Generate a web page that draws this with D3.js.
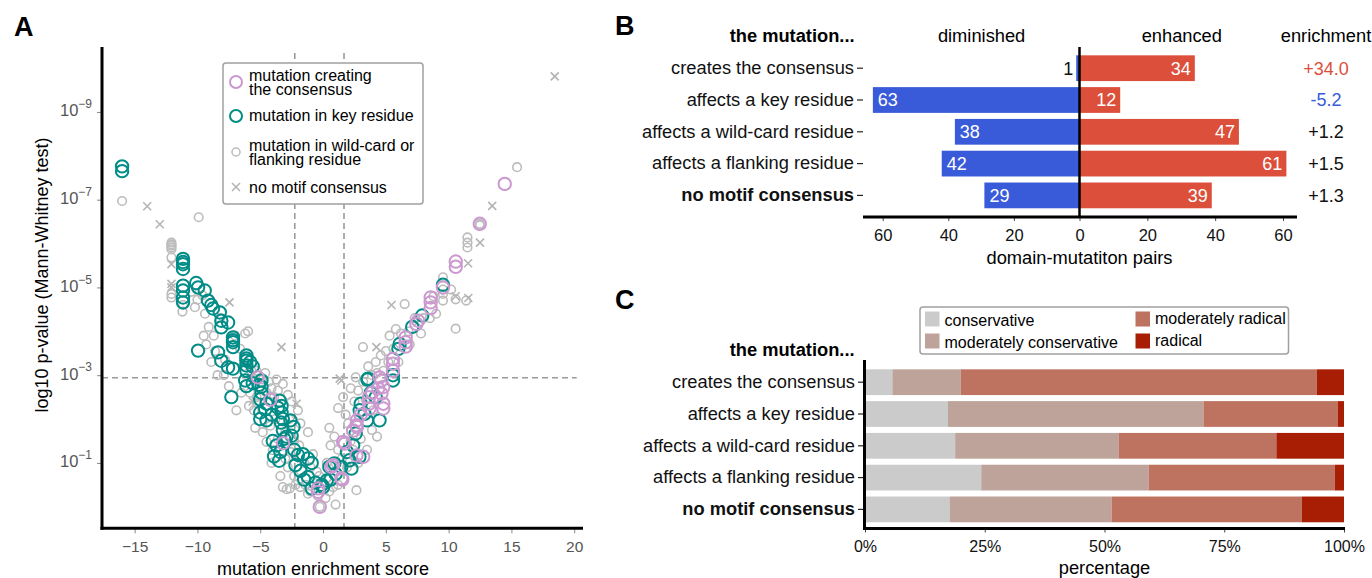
<!DOCTYPE html>
<html>
<head>
<meta charset="utf-8">
<script src="https://cdn.jsdelivr.net/npm/d3@7"></script>
<style>
body { margin: 0; background: #fff; }
svg { font-family: 'Liberation Sans', Arial, Helvetica, sans-serif; }
</style>
</head>
<body>
<svg id="chart" width="1372" height="578"></svg>
<script>
/* global d3 */

// panel A: [mutation enrichment score, -log10 p-value]
const creatingConsensus = [
	[-5.2, 2.95], [-4.2, 2.44], [-3.18, 1.45], [-0.4, 0.34], [-0.26, 0.0], [-0.4, 0.42],
	[0.67, 0.91], [0.8, 0.95], [1.54, 0.62], [1.46, 0.65], [1.73, 1.44], [1.6, 1.48], [2.4, 1.74], [2.65, 1.86], [2.66, 1.17], [3.2, 1.14],
	[2.7, 1.97], [2.7, 1.82], [3.0, 2.1], [3.66, 2.5], [3.66, 2.35], [3.7, 2.24], [3.9, 2.6],
	[4.65, 2.88], [4.8, 2.73], [4.65, 2.58], [4.8, 2.35], [4.8, 2.24], [4.5, 2.95], [4.4, 2.7],
	[5.57, 3.37], [5.57, 3.26], [5.57, 3.1],
	[6.58, 3.86], [6.58, 3.75], [6.58, 3.65], [7.57, 4.24], [7.43, 4.17],
	[8.57, 4.77], [8.57, 4.66], [8.57, 4.53], [9.55, 5.0],
	[10.57, 5.59], [10.57, 5.47], [12.48, 6.45], [14.47, 7.36],
];

const keyResidue = [
	[-16.0, 7.76], [-16.0, 7.65],
	[-11.15, 5.65], [-11.15, 5.58], [-11.15, 5.53], [-11.15, 5.42], [-11.15, 5.04], [-11.15, 4.93], [-11.15, 4.77], [-11.15, 4.66],
	[-10.1, 5.1], [-9.95, 5.0], [-9.42, 4.93], [-9.16, 4.7], [-8.9, 4.6], [-8.76, 4.52], [-8.22, 4.43],
	[-8.1, 4.24], [-8.1, 4.09], [-7.56, 4.2], [-7.17, 3.86], [-7.17, 3.8], [-7.17, 3.75], [-7.17, 3.64],
	[-9.95, 3.56], [-8.36, 3.52], [-8.1, 3.33], [-7.56, 3.18], [-7.17, 3.15],
	[-6.1, 3.45], [-6.1, 3.38], [-6.1, 3.33], [-6.1, 3.22], [-6.1, 3.1], [-5.8, 3.3], [-5.6, 3.2],
	[-6.2, 2.88], [-6.1, 2.75], [-5.6, 2.82], [-5.1, 2.78], [-4.9, 2.74], [-4.9, 2.88],
	[-7.3, 2.5], [-4.9, 2.6], [-5.0, 2.45], [-4.5, 2.35], [-3.45, 2.42], [-3.3, 2.3], [-3.3, 2.15], [-3.2, 2.0], [-3.35, 1.92],
	[-5.0, 2.15], [-5.0, 2.0], [-4.5, 1.97], [-4.1, 2.1], [-3.6, 2.26], [-4.6, 2.22],
	[-2.6, 1.97], [-2.35, 1.82], [-2.5, 1.62],
	[-2.9, 1.6], [-3.1, 1.55], [-4.0, 1.5], [-3.7, 1.4], [-3.4, 1.25], [-3.5, 1.05], [-3.9, 1.15], [-3.2, 1.75],
	[-2.3, 1.3], [-2.0, 1.18], [-1.6, 1.2], [-1.2, 1.1], [-2.2, 0.95], [-1.8, 0.82], [-1.5, 0.62], [-1.2, 0.68], [-0.9, 0.42], [-0.6, 0.55], [-0.9, 1.0],
	[-0.1, 0.5], [0.3, 0.6], [0.0, 0.45], [0.6, 0.62], [1.0, 0.75], [0.5, 0.91], [0.9, 0.99], [1.46, 0.91], [2.26, 0.87],
	[2.1, 1.06], [2.9, 1.14], [2.6, 1.67], [2.92, 2.2], [3.3, 2.12], [3.5, 1.97], [4.5, 1.97], [3.53, 2.9], [3.8, 2.6], [4.2, 2.5], [3.0, 2.35],
	[5.57, 2.88], [5.57, 3.0], [6.1, 3.71], [6.0, 3.6], [7.1, 4.1], [7.9, 4.36], [9.55, 5.06], [3.58, 2.92], [2.4, 1.4], [1.9, 1.25],
];

const wildcardFlanking = [
	[-16.0, 6.97], [-9.9, 6.6], [15.45, 7.74],
	[-12.07, 6.02], [-12.07, 5.98], [-12.07, 5.95], [-12.07, 5.91], [-12.07, 5.87], [-12.07, 5.68], [-12.07, 4.85], [-12.07, 4.77],
	[-11.15, 4.6], [-11.2, 4.45], [-10.2, 4.55], [-10.0, 4.72], [-9.6, 4.82], [-10.5, 4.9],
	[-9.4, 4.4], [-9.1, 4.1], [-9.5, 3.9], [-9.3, 3.7], [-8.7, 3.9], [-8.6, 3.55], [-8.9, 3.3], [-8.4, 3.0], [-7.9, 3.0], [-7.8, 3.35], [-7.5, 2.75], [-8.2, 4.3], [-7.0, 3.9],
	[-6.2, 3.95], [-5.97, 4.0], [-6.6, 3.6], [-6.4, 3.2], [-5.7, 3.1], [-5.3, 3.1], [-5.5, 2.9], [-4.8, 2.9], [-4.3, 2.85], [-4.1, 2.7], [-3.7, 2.9], [-3.2, 2.8], [-4.6, 3.05],
	[-6.5, 2.6], [-6.9, 2.2], [-5.9, 2.3], [-5.5, 2.2], [-5.3, 2.5], [-4.5, 2.6], [-3.9, 2.5], [-3.6, 2.65], [-2.8, 2.55], [-2.5, 2.4], [-5.8, 2.6], [-5.2, 2.35], [-4.3, 2.4],
	[-5.4, 1.8], [-4.8, 1.7], [-4.5, 1.48], [-4.0, 1.29], [-3.6, 1.55], [-3.0, 1.7], [-2.7, 2.0], [-2.0, 2.2], [-1.8, 1.9], [-1.2, 1.7], [-2.3, 1.5], [-1.9, 1.4], [-4.2, 1.85], [-3.8, 2.0], [-2.6, 1.25],
	[-3.2, 0.45], [-2.65, 0.42], [-2.3, 0.7], [-2.8, 0.9], [-3.0, 1.1], [-1.5, 1.0], [-1.0, 0.9], [-0.8, 1.2], [-0.5, 0.8], [-0.3, 0.7], [-1.0, 0.35], [-0.4, 0.25], [-0.26, 0.0], [0.2, 0.2], [0.5, 0.35], [0.8, 0.45], [1.2, 0.5], [-1.4, 0.5], [-2.0, 0.6],
	[-2.9, 0.4], [-1.8, 0.45], [-1.2, 0.3], [-3.4, 0.7], [-4.1, 1.0],
	[0.6, 1.4], [0.9, 1.6], [1.2, 1.3], [1.5, 1.1], [1.9, 0.9], [2.2, 1.5], [2.4, 1.3], [2.66, 0.38], [2.8, 1.0], [3.5, 1.3], [3.0, 1.55], [0.3, 1.0], [1.0, 1.0],
	[1.2, 2.25], [1.8, 2.1], [2.0, 1.9], [2.5, 2.4], [2.2, 2.7], [2.8, 2.65], [3.2, 2.85], [3.4, 2.45], [4.0, 2.2], [3.9, 1.75], [4.3, 1.6], [1.6, 2.5], [2.6, 2.95],
	[3.18, 3.64], [3.6, 3.2], [3.9, 3.0], [4.2, 3.3], [4.3, 3.05], [4.8, 3.1], [5.0, 3.55], [5.2, 3.3], [5.6, 3.6], [6.0, 3.3], [5.3, 3.9], [4.6, 3.45],
	[6.5, 4.62], [5.8, 4.05], [6.2, 3.95], [6.8, 4.0], [7.3, 4.3], [7.8, 3.95], [8.0, 4.3], [8.5, 4.3], [9.0, 4.4], [8.8, 4.8], [6.9, 3.7],
	[9.55, 5.23], [9.55, 4.95], [9.55, 4.85], [9.55, 4.7], [10.56, 4.73], [10.56, 4.06], [10.2, 4.95], [11.4, 4.7],
	[11.5, 6.14], [11.5, 6.02], [11.5, 5.91], [12.48, 6.45], [12.48, 6.42], [1.0, 0.05], [-2.2, 0.5], [0.5, 1.8],
];

const noMotif = [
	[-14.0, 6.85], [-13.0, 6.44], [-12.07, 5.53], [-12.07, 5.08], [-12.07, 5.0], [-7.45, 4.66], [-3.31, 3.64], [-2.1, 2.35],
	[1.46, 2.88], [1.33, 2.92], [4.25, 3.64], [5.45, 4.6], [10.56, 4.8], [11.57, 4.76], [11.55, 5.55], [12.5, 6.02],
	[13.47, 6.86], [18.45, 9.81], [7.5, 4.2], [2.2, 1.6], [-2.3, 1.1], [0.4, 0.55], [-5.6, 2.4],
];

const scoreTicks = [-15, -10, -5, 0, 5, 10, 15, 20];
const pTicks = [-9, -7, -5, -3, -1];
const scoreThresholds = [-2.25, 1.67];
const pThreshold = -2.94;

// panels B and C
const rowLabels = ['creates the consensus', 'affects a key residue', 'affects a wild-card residue', 'affects a flanking residue', 'no motif consensus'];
const diminished = [1, 63, 38, 42, 29];
const enhanced = [34, 12, 47, 61, 39];
const enrichment = [34.0, -5.2, 1.2, 1.5, 1.3];
const pairTicks = [0, 20, 40, 60];

const classNames = ['conservative', 'moderately conservative', 'moderately radical', 'radical'];
const conservative = [2, 13, 16, 25, 12];
const moderatelyConservative = [5, 40, 29, 36, 23];
const moderatelyRadical = [26, 21, 28, 40, 27];
const radical = [2, 1, 12, 2, 6];
const percentTicks = [0, 25, 50, 75, 100];

const teal = '#008c87';
const pink = '#cc98d0';
const grey = '#bcbcbc';
const blue = '#3a5bd9';
const red = '#db4f3b';
const classColors = ['#cbcbcb', '#bda399', '#bd735f', '#a81e04'];

const svg = d3.select('#chart');

function panelLetter(letter, px, py) {
	svg.append('text')
		.attr('x', px)
		.attr('y', py)
		.attr('font-size', 27)
		.attr('font-weight', 'bold')
		.text(letter);
}

// ---------- A ----------
function drawScatter() {
	const bottom = 528.3;
	const x = d3.scaleLinear().domain([-17.6, 20.7]).range([102, 583]);
	const y = d3.scaleLog().domain([Math.pow(10, 0.49), Math.pow(10, -10.48)]).range([bottom, 47]);
	const px = d => x(d[0]);
	const py = d => y(Math.pow(10, -d[1]));

	panelLetter('A', 14, 36);

	const g = svg.append('g');

	g.selectAll('.vthresh')
		.data(scoreThresholds)
		.enter().append('line')
		.attr('x1', d => x(d)).attr('x2', d => x(d))
		.attr('y1', 53).attr('y2', bottom)
		.attr('stroke', '#9a9a9a')
		.attr('stroke-width', 1.6)
		.attr('stroke-dasharray', '6,4');

	g.append('line')
		.attr('x1', 102).attr('x2', x(20.2))
		.attr('y1', y(Math.pow(10, pThreshold))).attr('y2', y(Math.pow(10, pThreshold)))
		.attr('stroke', '#9a9a9a')
		.attr('stroke-width', 1.6)
		.attr('stroke-dasharray', '6,4');

	g.selectAll('.grey')
		.data(wildcardFlanking)
		.enter().append('circle')
		.attr('cx', px).attr('cy', py)
		.attr('r', 4.3)
		.attr('fill', 'none')
		.attr('stroke', grey)
		.attr('stroke-width', 1.6);

	g.selectAll('.cross')
		.data(noMotif)
		.enter().append('path')
		.attr('d', d => `M${px(d) - 4},${py(d) - 4}L${px(d) + 4},${py(d) + 4}M${px(d) - 4},${py(d) + 4}L${px(d) + 4},${py(d) - 4}`)
		.attr('stroke', '#b4b4b4')
		.attr('stroke-width', 1.6);

	g.selectAll('.key')
		.data(keyResidue)
		.enter().append('circle')
		.attr('cx', px).attr('cy', py)
		.attr('r', 6.2)
		.attr('fill', 'none')
		.attr('stroke', teal)
		.attr('stroke-width', 2);

	g.selectAll('.creating')
		.data(creatingConsensus)
		.enter().append('circle')
		.attr('cx', px).attr('cy', py)
		.attr('r', 6.2)
		.attr('fill', 'none')
		.attr('stroke', pink)
		.attr('stroke-width', 2);

	// axes
	const xAxis = g.append('g')
		.attr('transform', `translate(0,${bottom})`)
		.call(d3.axisBottom(x).tickValues(scoreTicks).tickSize(5).tickSizeOuter(0));
	xAxis.select('.domain').remove();
	xAxis.selectAll('line').attr('stroke', '#888');
	xAxis.selectAll('text')
		.attr('font-size', 15.5)
		.attr('font-family', null)
		.attr('fill', '#555')
		.attr('y', 18.4)
		.attr('dy', '0.35em');

	const yAxis = g.append('g')
		.attr('transform', 'translate(102,0)')
		.call(d3.axisLeft(y).tickValues(pTicks.map(e => Math.pow(10, e))).tickSize(5).tickFormat(''));
	yAxis.select('.domain').remove();
	yAxis.selectAll('line').attr('stroke', '#888');
	const yLabel = yAxis.selectAll('.tick').append('text')
		.attr('x', -10)
		.attr('dy', '0.4em')
		.attr('text-anchor', 'end')
		.attr('fill', '#555');
	yLabel.append('tspan').attr('font-size', 16.5).text('10');
	yLabel.append('tspan').attr('font-size', 12).attr('dy', '-0.7em').text(d => '−' + Math.round(-Math.log10(d)));

	g.append('line')
		.attr('x1', 102).attr('x2', 102).attr('y1', 47).attr('y2', bottom + 1.5)
		.attr('stroke', '#000').attr('stroke-width', 3);
	g.append('line')
		.attr('x1', 100.5).attr('x2', 583).attr('y1', bottom).attr('y2', bottom)
		.attr('stroke', '#000').attr('stroke-width', 3);

	g.append('text')
		.attr('x', x(0))
		.attr('y', 568.3)
		.attr('dy', '0.35em')
		.attr('text-anchor', 'middle')
		.attr('font-size', 18)
		.text('mutation enrichment score');

	g.append('text')
		.attr('transform', 'translate(48,275) rotate(-90)')
		.attr('text-anchor', 'middle')
		.attr('font-size', 18)
		.text('log10 p-value (Mann-Whitney test)');

	// legend
	const legend = g.append('g');
	legend.append('rect')
		.attr('x', 223).attr('y', 63).attr('width', 200).attr('height', 141)
		.attr('rx', 3)
		.attr('fill', '#fff')
		.attr('stroke', '#a0a0a0')
		.attr('stroke-width', 1.5);

	legend.append('circle').attr('cx', 236).attr('cy', 82).attr('r', 6)
		.attr('fill', 'none').attr('stroke', pink).attr('stroke-width', 2);
	legend.append('circle').attr('cx', 236).attr('cy', 116).attr('r', 6)
		.attr('fill', 'none').attr('stroke', teal).attr('stroke-width', 2);
	legend.append('circle').attr('cx', 236).attr('cy', 152).attr('r', 4)
		.attr('fill', 'none').attr('stroke', grey).attr('stroke-width', 1.5);
	legend.append('path').attr('d', 'M232,183L240,191M232,191L240,183')
		.attr('stroke', '#b4b4b4').attr('stroke-width', 1.6);

	const legendLines = [
		['mutation creating', 75], ['the consensus', 89.5],
		['mutation in key residue', 115],
		['mutation in wild-card or', 145], ['flanking residue', 159.5],
		['no motif consensus', 187],
	];
	legend.selectAll('.ltext')
		.data(legendLines)
		.enter().append('text')
		.attr('x', 249)
		.attr('y', d => d[1])
		.attr('dy', '0.35em')
		.attr('font-size', 16)
		.text(d => d[0]);
}

// ---------- B ----------
function drawPairs() {
	const zero = 1079.5;
	const y = d3.scaleBand().domain(rowLabels).range([52.3, 211.3]).paddingInner(0.19).paddingOuter(0.095);
	const xLeft = d3.scaleLinear().domain([0, 60]).range([zero, 882.7]);
	const xRight = d3.scaleLinear().domain([0, 60]).range([zero, 1283]);

	panelLetter('B', 615, 35);

	const g = svg.append('g');

	g.append('text').attr('x', 854.6).attr('y', 36).attr('dy', '0.35em')
		.attr('text-anchor', 'end').attr('font-size', 18.3).attr('font-weight', 'bold')
		.text('the mutation...');
	g.append('text').attr('x', 981.6).attr('y', 36).attr('dy', '0.35em')
		.attr('text-anchor', 'middle').attr('font-size', 18.3).text('diminished');
	g.append('text').attr('x', 1181.8).attr('y', 36).attr('dy', '0.35em')
		.attr('text-anchor', 'middle').attr('font-size', 18.3).text('enhanced');
	g.append('text').attr('x', 1326).attr('y', 36).attr('dy', '0.35em')
		.attr('text-anchor', 'middle').attr('font-size', 18.3).text('enrichment');

	g.selectAll('.dim')
		.data(diminished)
		.enter().append('rect')
		.attr('x', d => xLeft(d))
		.attr('y', (d, i) => y(rowLabels[i]))
		.attr('width', d => zero - xLeft(d))
		.attr('height', y.bandwidth())
		.attr('fill', blue);

	g.selectAll('.enh')
		.data(enhanced)
		.enter().append('rect')
		.attr('x', zero)
		.attr('y', (d, i) => y(rowLabels[i]))
		.attr('width', d => xRight(d) - zero)
		.attr('height', y.bandwidth())
		.attr('fill', red);

	g.selectAll('.dimlabel')
		.data(diminished)
		.enter().append('text')
		.attr('x', d => d < 5 ? xLeft(d) - 3 : xLeft(d) + 5)
		.attr('y', (d, i) => y(rowLabels[i]) + y.bandwidth() / 2)
		.attr('dy', '0.36em')
		.attr('text-anchor', d => d < 5 ? 'end' : 'start')
		.attr('font-size', 18)
		.attr('fill', d => d < 5 ? '#111' : '#fff')
		.text(d => d);

	g.selectAll('.enhlabel')
		.data(enhanced)
		.enter().append('text')
		.attr('x', d => xRight(d) - 4)
		.attr('y', (d, i) => y(rowLabels[i]) + y.bandwidth() / 2)
		.attr('dy', '0.36em')
		.attr('text-anchor', 'end')
		.attr('font-size', 18)
		.attr('fill', '#fff')
		.text(d => d);

	g.selectAll('.enr')
		.data(enrichment)
		.enter().append('text')
		.attr('x', 1326)
		.attr('y', (d, i) => y(rowLabels[i]) + y.bandwidth() / 2)
		.attr('dy', '0.36em')
		.attr('text-anchor', 'middle')
		.attr('font-size', 18)
		.attr('fill', d => d > 2 ? red : d < 0 ? blue : '#111')
		.text(d => (d > 0 ? '+' : '-') + Math.abs(d).toFixed(1));

	const rows = g.append('g')
		.attr('transform', 'translate(863,0)')
		.call(d3.axisLeft(y).tickSize(6).tickPadding(3));
	rows.select('.domain').remove();
	rows.selectAll('line').attr('stroke', '#222').attr('stroke-width', 1.2);
	rows.selectAll('text')
		.attr('font-family', null)
		.attr('font-size', 18.3)
		.attr('fill', '#111')
		.attr('font-weight', d => d === 'no motif consensus' ? 'bold' : null);

	g.append('line')
		.attr('x1', zero).attr('x2', zero).attr('y1', 47).attr('y2', 216)
		.attr('stroke', '#000').attr('stroke-width', 2.5);

	const axisLeftPart = g.append('g')
		.attr('transform', 'translate(0,217)')
		.call(d3.axisBottom(xLeft).tickValues(pairTicks.slice(1)).tickSize(4).tickSizeOuter(0));
	const axisRightPart = g.append('g')
		.attr('transform', 'translate(0,217)')
		.call(d3.axisBottom(xRight).tickValues(pairTicks).tickSize(4).tickSizeOuter(0));
	[axisLeftPart, axisRightPart].forEach(a => {
		a.select('.domain').remove();
		a.selectAll('line').attr('stroke', '#444');
		a.selectAll('text')
			.attr('font-family', null)
			.attr('font-size', 16.5)
			.attr('fill', '#111')
			.attr('dy', '1.05em');
	});
	g.append('line')
		.attr('x1', 863).attr('x2', 1297).attr('y1', 217).attr('y2', 217)
		.attr('stroke', '#000').attr('stroke-width', 3);

	g.append('text').attr('x', zero).attr('y', 258).attr('dy', '0.35em')
		.attr('text-anchor', 'middle').attr('font-size', 18.3).text('domain-mutatiton pairs');
}

// ---------- C ----------
function drawSubstitutions() {
	const y = d3.scaleBand().domain(rowLabels).range([366.3, 525.3]).paddingInner(0.19).paddingOuter(0.095);
	const x = d3.scaleLinear().domain([0, 100]).range([865, 1344]);

	panelLetter('C', 615, 309);

	const g = svg.append('g');

	const table = rowLabels.map((label, i) => {
		const total = conservative[i] + moderatelyConservative[i] + moderatelyRadical[i] + radical[i];
		return {
			label: label,
			'conservative': conservative[i] / total * 100,
			'moderately conservative': moderatelyConservative[i] / total * 100,
			'moderately radical': moderatelyRadical[i] / total * 100,
			'radical': radical[i] / total * 100,
		};
	});
	const series = d3.stack().keys(classNames)(table);

	g.selectAll('.layer')
		.data(series)
		.enter().append('g')
		.attr('fill', (d, i) => classColors[i])
		.selectAll('rect')
		.data(d => d)
		.enter().append('rect')
		.attr('x', d => x(d[0]))
		.attr('y', d => y(d.data.label))
		.attr('width', d => x(d[1]) - x(d[0]))
		.attr('height', y.bandwidth());

	g.append('text').attr('x', 854.6).attr('y', 350).attr('dy', '0.35em')
		.attr('text-anchor', 'end').attr('font-size', 18.3).attr('font-weight', 'bold')
		.text('the mutation...');

	const rows = g.append('g')
		.attr('transform', 'translate(864,0)')
		.call(d3.axisLeft(y).tickSize(6).tickPadding(3));
	rows.select('.domain').remove();
	rows.selectAll('line').attr('stroke', '#222').attr('stroke-width', 1.2);
	rows.selectAll('text')
		.attr('font-family', null)
		.attr('font-size', 18.3)
		.attr('fill', '#111')
		.attr('font-weight', d => d === 'no motif consensus' ? 'bold' : null);

	const xAxis = g.append('g')
		.attr('transform', 'translate(0,528.5)')
		.call(d3.axisBottom(x).tickValues(percentTicks).tickSize(4).tickSizeOuter(0).tickFormat(d => d + '%'));
	xAxis.select('.domain').remove();
	xAxis.selectAll('line').attr('stroke', '#444');
	xAxis.selectAll('text')
		.attr('font-family', null)
		.attr('font-size', 16)
		.attr('fill', '#111')
		.attr('dy', '1.05em');

	g.append('line')
		.attr('x1', 864.5).attr('x2', 864.5).attr('y1', 360).attr('y2', 530)
		.attr('stroke', '#000').attr('stroke-width', 3);
	g.append('line')
		.attr('x1', 863).attr('x2', 1345).attr('y1', 528.5).attr('y2', 528.5)
		.attr('stroke', '#000').attr('stroke-width', 3);

	g.append('text').attr('x', x(50)).attr('y', 568).attr('dy', '0.35em')
		.attr('text-anchor', 'middle').attr('font-size', 18.3).text('percentage');

	// legend
	const legend = g.append('g');
	legend.append('rect')
		.attr('x', 920).attr('y', 307).attr('width', 368.5).attr('height', 47)
		.attr('rx', 3)
		.attr('fill', '#fff')
		.attr('stroke', '#a0a0a0')
		.attr('stroke-width', 1.5);

	const legendPos = [[925, 319], [925, 341], [1135.5, 319], [1135.5, 341]];
	legend.selectAll('.swatch')
		.data(classNames)
		.enter().append('rect')
		.attr('x', (d, i) => legendPos[i][0])
		.attr('y', (d, i) => legendPos[i][1] - 7.5)
		.attr('width', 14.5)
		.attr('height', 15)
		.attr('fill', (d, i) => classColors[i]);
	legend.selectAll('.ltext')
		.data(classNames)
		.enter().append('text')
		.attr('x', (d, i) => legendPos[i][0] + 19.5)
		.attr('y', (d, i) => legendPos[i][1] + (i < 2 ? 1 : -1))
		.attr('dy', '0.35em')
		.attr('font-size', 16)
		.text(d => d);
}

drawScatter();
drawPairs();
drawSubstitutions();
</script>
</body>
</html>
